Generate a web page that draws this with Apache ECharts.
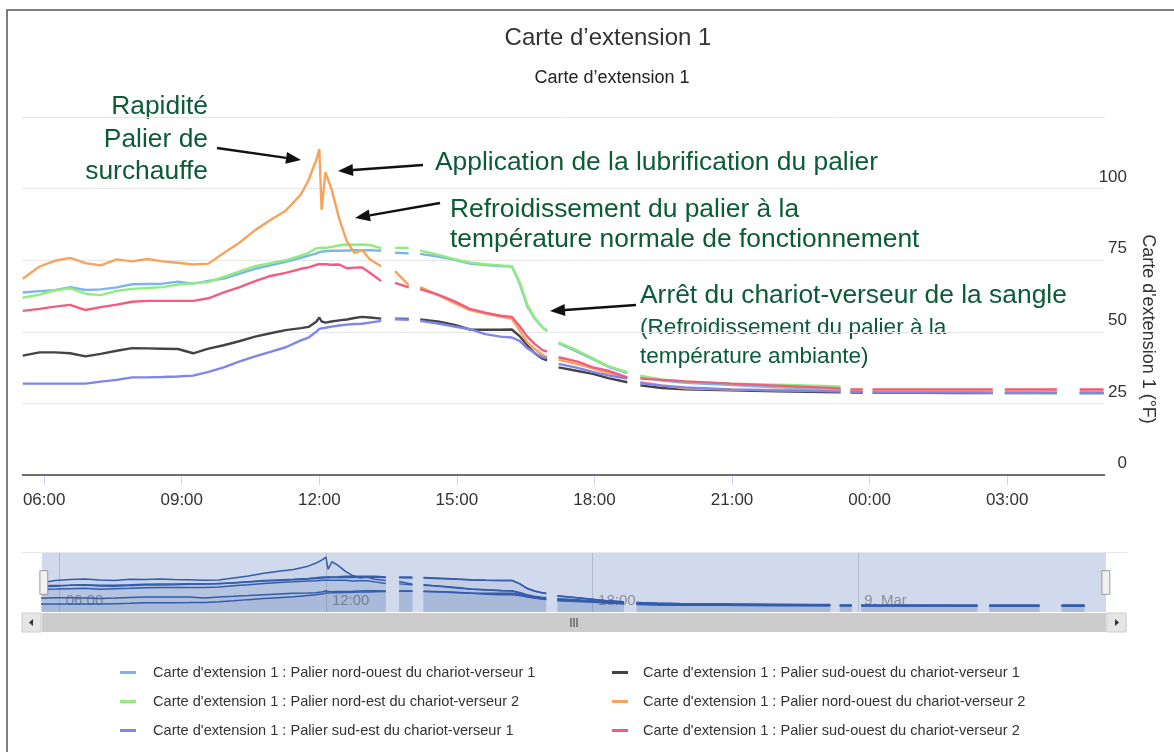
<!DOCTYPE html>
<html>
<head>
<meta charset="utf-8">
<title>Carte d'extension 1</title>
<script src="https://cdn.jsdelivr.net/npm/echarts@6/dist/echarts.min.js"></script>
<style>
html,body{margin:0;padding:0;background:#fff}
#chart{width:1174px;height:752px}
</style>
</head>
<body>
<div id="chart"></div>
<script>
// time stamps shared by every series (null rows = sensor gaps)
var times = [
    '2019-03-08 05:32','2019-03-08 05:54','2019-03-08 06:14','2019-03-08 06:34','2019-03-08 06:54',
    '2019-03-08 07:14','2019-03-08 07:35','2019-03-08 07:55','2019-03-08 08:15','2019-03-08 08:35',
    '2019-03-08 08:55','2019-03-08 09:15','2019-03-08 09:35','2019-03-08 09:55','2019-03-08 10:15',
    '2019-03-08 10:36','2019-03-08 10:56','2019-03-08 11:16','2019-03-08 11:36','2019-03-08 11:46',
    '2019-03-08 11:56','2019-03-08 12:00','2019-03-08 12:03','2019-03-08 12:08','2019-03-08 12:16',
    '2019-03-08 12:26','2019-03-08 12:36','2019-03-08 12:46','2019-03-08 12:56','2019-03-08 13:06',
    '2019-03-08 13:21','2019-03-08 13:30','2019-03-08 13:39','2019-03-08 13:57','2019-03-08 14:05',
    '2019-03-08 14:12','2019-03-08 14:37','2019-03-08 14:57','2019-03-08 15:17','2019-03-08 15:37',
    '2019-03-08 15:57','2019-03-08 16:12','2019-03-08 16:22','2019-03-08 16:32','2019-03-08 16:42',
    '2019-03-08 16:52','2019-03-08 16:58','2019-03-08 17:05','2019-03-08 17:13','2019-03-08 17:38',
    '2019-03-08 17:58','2019-03-08 18:18','2019-03-08 18:43','2019-03-08 18:51','2019-03-08 19:00',
    '2019-03-08 19:28','2019-03-08 19:59','2019-03-08 20:59','2019-03-08 21:59','2019-03-08 23:00',
    '2019-03-08 23:22','2019-03-08 23:28','2019-03-08 23:35','2019-03-08 23:51','2019-03-08 23:57',
    '2019-03-09 00:04','2019-03-09 01:00','2019-03-09 02:00','2019-03-09 02:41','2019-03-09 02:49',
    '2019-03-09 02:57','2019-03-09 03:31','2019-03-09 04:05','2019-03-09 04:20','2019-03-09 04:35',
    '2019-03-09 05:06'
];

var xTickLabels = ['2019-03-08 06:00','2019-03-08 09:00','2019-03-08 12:00','2019-03-08 15:00',
    '2019-03-08 18:00','2019-03-08 21:00','2019-03-09 00:00','2019-03-09 03:00'];
var navTickLabels = ['2019-03-08 06:00','2019-03-08 12:00','2019-03-08 18:00','2019-03-09 00:00'];

var seriesNames = [
    "Carte d'extension 1 : Palier nord-ouest du chariot-verseur 1",
    "Carte d'extension 1 : Palier sud-ouest du chariot-verseur 1",
    "Carte d'extension 1 : Palier nord-est du chariot-verseur 2",
    "Carte d'extension 1 : Palier nord-ouest du chariot-verseur 2",
    "Carte d'extension 1 : Palier sud-est du chariot-verseur 1",
    "Carte d'extension 1 : Palier sud-ouest du chariot-verseur 2"
];
var colors = ['#7cb5ec', '#434348', '#90ed7d', '#f7a35c', '#8085e9', '#f15c80'];

var nordOuest1 = [63.7,64.2,64.5,65.6,64.6,64.8,65.5,66.6,66.7,66.8,67.5,66.8,67.8,68.6,70.2,72,73.2,74.4,75.8,76.6,
    77.3,77.8,78,78.1,78.3,78.3,78.4,78.5,78.5,78.5,78.3,null,77.6,77.4,null,
    77.2,76.2,75.1,73.8,73.3,73.0,72.8,67,59,54.6,51.5,50.3,null,46,43,40.4,37.8,35.6,null,
    34.4,33,32.2,31.4,30.6,30.2,29.8,null,29.5,29.4,null,29.2,29.1,29,28.9,null,28.8,28.8,28.7,null,28.6,28.6];
var sudOuest1 = [41.7,42.8,42.8,42.5,41.4,42.3,43.4,44.3,44.2,44.1,44,42.5,44.1,45.3,46.7,48.3,49.5,50.6,51.3,51.7,
    53.5,55,53.6,53.2,53.6,54,54.3,54.8,55.2,55,54.6,null,54.6,54.5,null,
    54.3,53.5,52.4,50.8,50.7,50.7,50.8,48.5,45.3,42.5,40.6,40,null,37.6,36.3,35.3,33.8,32.4,null,
    31.3,30.4,29.9,29.6,29.2,29,28.9,null,28.8,28.7,null,28.7,28.7,28.6,28.6,null,28.6,28.6,28.6,null,28.6,28.6];
var nordEst2 = [61.9,63,64.5,65.2,63.3,62.8,64.3,65,65.3,65.6,66.5,67,67.4,69.2,71,72.9,74,75,76.6,77.6,
    79.2,79.3,79.4,79.3,79.6,80.2,80.5,80.4,80.5,80.3,79.2,null,79.3,79.3,null,
    78.4,76.8,75.4,74.2,73.6,73.2,72.9,67.5,59.5,54.8,51.5,50.6,null,46.3,43.4,40.7,38,35.9,null,
    34.7,33.4,32.6,31.9,31.5,31.1,30.9,null,29.6,29.5,null,29.4,29.3,29.2,29.1,null,29.0,28.6,28.5,null,29.4,29.3];
var nordOuest2 = [68.5,72.8,74.8,75.8,74,73.2,75.3,74.6,75.4,74.6,74.1,73.5,73.8,77.5,81,85.5,89,92.3,98,103,
    110,113.8,92.6,105.7,99.8,89.5,81.6,77.5,78.6,75.3,72.9,null,71.2,66.3,null,
    65.6,62.6,60,57.6,56.4,55.3,54.5,50.5,46.4,44,42,41.2,null,40.2,38.7,37.2,35.6,34,null,
    32.4,31.3,30.3,29.8,29.7,29.7,29.7,null,29.7,29.7,null,29.7,29.7,29.7,29.7,null,29.7,29.7,29.7,null,29.7,29.7];
var sudEst1 = [31.9,31.9,31.9,31.9,31.9,32.6,33.2,34.1,34.1,34.2,34.4,34.7,36,37.6,39.6,41.4,43,44.6,47,48,
    50,51,51.2,51.4,51.8,52.2,52.5,52.7,52.8,53.2,53.8,null,54.4,54.2,null,
    53.8,52.8,51.8,50.9,49.2,48.3,48,46.8,44.3,42.6,41.1,40.8,null,38.8,37.4,36,34.8,33.7,null,
    32.1,31.2,30.6,29.9,29.5,29.3,29.1,null,28.9,28.9,null,28.8,28.8,28.8,28.7,null,28.7,28.7,28.7,null,28.7,28.7];
var sudOuest2 = [57.3,58,58.8,59.4,57.6,58.6,59.5,60.5,60.8,60.8,60.8,60.8,61.7,63.8,65.5,67.7,69.5,70.6,72,72.5,
    73.4,73.6,73.6,73.6,73.4,73.5,72.2,72.4,72.5,70.6,67.7,null,67.1,65.5,null,
    64.9,62.8,60.6,58,56.7,55.6,55.2,52,48.3,45.7,43.6,43.1,null,41.1,39.6,37.6,36.4,34.1,null,
    33.7,33.2,32.7,31.9,31.2,30.5,30.2,null,29.9,29.9,null,29.9,29.9,29.9,29.9,null,29.9,29.9,29.9,null,29.9,29.9];

var seriesValues = [nordOuest1, sudOuest1, nordEst2, nordOuest2, sudEst1, sudOuest2];
var yTicks = [0, 25, 50, 75, 100, 125];

var FONT = '"Liberation Sans", Arial, sans-serif';
var GREEN = '#0b5b39';

function pad(n) { return n < 10 ? '0' + n : '' + n; }
function ts(s) { return new Date(s.replace(' ', 'T')).getTime(); }
function hhmm(v) { var d = new Date(v); return pad(d.getHours()) + ':' + pad(d.getMinutes()); }

function pairs(values) {
    return values.map(function (v, i) { return [ts(times[i]), v]; });
}

function arrow(x1, y1, x2, y2) {
    var dx = x2 - x1, dy = y2 - y1;
    var len = Math.sqrt(dx * dx + dy * dy);
    var ux = dx / len, uy = dy / len;
    var hl = 15, hw = 6;
    var bx = x2 - ux * hl, by = y2 - uy * hl;
    return [{
        type: 'line', silent: true,
        shape: {x1: x1, y1: y1, x2: bx, y2: by},
        style: {stroke: '#111', lineWidth: 2.5}
    }, {
        type: 'polygon', silent: true,
        shape: {points: [[x2, y2], [bx - uy * hw, by + ux * hw], [bx + uy * hw, by - ux * hw]]},
        style: {fill: '#111'}
    }];
}

function note(text, x, y, size, align) {
    return {
        type: 'text', x: x, y: y, silent: true,
        style: {
            text: text, fill: GREEN,
            font: size + 'px ' + FONT,
            align: align, textAlign: align,
            verticalAlign: 'middle', textVerticalAlign: 'middle'
        }
    };
}

var series = [];
seriesValues.forEach(function (vals, i) {
    var s = {
        name: seriesNames[i],
        type: 'line',
        xAxisIndex: 0, yAxisIndex: 0,
        data: pairs(vals),
        showSymbol: false,
        connectNulls: false,
        color: colors[i],
        lineStyle: {width: 2.4, color: colors[i]},
        emphasis: {disabled: true}
    };
    if (i === 0) {
        // dark base line at 0
        s.markLine = {
            silent: true, symbol: 'none', label: {show: false},
            lineStyle: {color: '#444', width: 1.5, type: 'solid'},
            data: [{yAxis: 0}]
        };
    }
    series.push(s);
});
// navigator copies
seriesValues.forEach(function (vals, i) {
    series.push({
        name: 'nav' + i,
        type: 'line',
        xAxisIndex: 1, yAxisIndex: 1,
        data: pairs(vals),
        showSymbol: false,
        connectNulls: false,
        silent: true,
        lineStyle: {width: 1.5, color: '#335cad'},
        areaStyle: {color: 'rgba(51,92,173,0.06)'},
        emphasis: {disabled: true}
    });
});

var graphics = [
    {type: 'rect', silent: true, z: -10, shape: {x: 7, y: 10, width: 1200, height: 800},
        style: {fill: 'none', stroke: '#555', lineWidth: 1.5}},
    {type: 'line', silent: true, shape: {x1: 22, y1: 552.5, x2: 1127, y2: 552.5}, style: {stroke: '#e6e6e6', lineWidth: 1}},
    // scrollbar under the navigator
    {type: 'rect', silent: true, shape: {x: 22, y: 613, width: 1105, height: 19}, style: {fill: '#f2f2f2'}},
    {type: 'rect', silent: true, shape: {x: 42, y: 613, width: 1064, height: 19}, style: {fill: '#cccccc'}},
    {type: 'rect', silent: true, shape: {x: 22, y: 613, width: 19, height: 19}, style: {fill: '#e6e6e6', stroke: '#cccccc'}},
    {type: 'rect', silent: true, shape: {x: 1107, y: 613, width: 19, height: 19}, style: {fill: '#e6e6e6', stroke: '#cccccc'}},
    {type: 'polygon', silent: true, shape: {points: [[29, 622.5], [33, 619], [33, 626]]}, style: {fill: '#333'}},
    {type: 'polygon', silent: true, shape: {points: [[1119, 622.5], [1115, 619], [1115, 626]]}, style: {fill: '#333'}},
    {type: 'line', silent: true, shape: {x1: 571, y1: 618, x2: 571, y2: 627}, style: {stroke: '#333', lineWidth: 1}},
    {type: 'line', silent: true, shape: {x1: 574, y1: 618, x2: 574, y2: 627}, style: {stroke: '#333', lineWidth: 1}},
    {type: 'line', silent: true, shape: {x1: 577, y1: 618, x2: 577, y2: 627}, style: {stroke: '#333', lineWidth: 1}},
    // annotations
    note('Rapidité', 208, 107, 26.4, 'right'),
    note('Palier de', 208, 140, 26.4, 'right'),
    note('surchauffe', 208, 172, 26.4, 'right'),
    note('Application de la lubrification du palier', 435, 163, 26.4, 'left'),
    note('Refroidissement du palier à la', 450, 210, 26.4, 'left'),
    note('température normale de fonctionnement', 450, 240, 26.4, 'left'),
    note('Arrêt du chariot-verseur de la sangle', 640, 296, 26.4, 'left'),
    note('(Refroidissement du palier à la', 640, 328, 22.6, 'left'),
    note('température ambiante)', 640, 357, 22.6, 'left')
].concat(arrow(217, 148, 301, 160))
 .concat(arrow(423, 165, 338, 171))
 .concat(arrow(440, 203, 355, 218))
 .concat(arrow(636, 305, 550, 311));

var chart = echarts.init(document.getElementById('chart'));
var option = {
    animation: false,
    backgroundColor: '#fff',
    textStyle: {fontFamily: FONT},
    title: [{
        text: 'Carte d’extension 1',
        left: 603, top: 21, textAlign: 'center',
        textStyle: {fontSize: 24, fontWeight: 'normal', color: '#333', fontFamily: FONT}
    }, {
        text: 'Carte d’extension 1',
        left: 607, top: 64, textAlign: 'center',
        textStyle: {fontSize: 18, fontWeight: 'normal', color: '#222', fontFamily: FONT}
    }],
    legend: [{
        data: [seriesNames[0], seriesNames[2], seriesNames[4]],
        orient: 'vertical', left: 120, top: 665, itemGap: 14, padding: 0,
        icon: 'rect', itemWidth: 16, itemHeight: 3,
        textStyle: {fontSize: 14.6, color: '#333', padding: [0, 0, 0, 12]}
    }, {
        data: [seriesNames[1], seriesNames[3], seriesNames[5]],
        orient: 'vertical', left: 612, top: 665, itemGap: 14, padding: 0,
        icon: 'rect', itemWidth: 16, itemHeight: 3,
        textStyle: {fontSize: 14.6, color: '#333', padding: [0, 0, 0, 10]}
    }],
    grid: [{
        left: 22, right: 69, top: 117, bottom: 277
    }, {
        left: 42, right: 68, top: 553, height: 59,
        show: true, backgroundColor: 'rgba(102,133,194,0.3)', borderWidth: 0
    }],
    xAxis: [{
        type: 'value', gridIndex: 0,
        min: ts('2019-03-08 05:31'), max: ts('2019-03-09 05:08'),
        offset: 2,
        axisLine: {lineStyle: {color: '#ccd6eb', width: 1}},
        axisTick: {show: true, length: 10, lineStyle: {color: '#ccd6eb'}, customValues: xTickLabels.map(ts)},
        axisLabel: {
            fontSize: 17, color: '#333', margin: 15,
            customValues: xTickLabels.map(ts),
            formatter: hhmm
        },
        splitLine: {show: false}
    }, {
        type: 'value', gridIndex: 1,
        min: ts('2019-03-08 05:36'), max: ts('2019-03-09 05:35'),
        axisLine: {show: false},
        axisTick: {show: false, customValues: navTickLabels.map(ts)},
        axisLabel: {
            inside: true, fontSize: 15, color: 'rgba(110,110,110,0.7)', margin: 4,
            align: 'left', padding: [0, 0, 0, 6],
            customValues: navTickLabels.map(ts),
            formatter: function (v) {
                var d = new Date(v);
                if (d.getHours() === 0) return d.getDate() + '. Mar';
                return hhmm(v);
            }
        },
        splitLine: {show: true, lineStyle: {color: 'rgba(90,90,90,0.25)'}}
    }],
    yAxis: [{
        type: 'value', gridIndex: 0, position: 'right',
        min: yTicks[0], max: yTicks[yTicks.length - 1], interval: 25,
        name: "Carte d'extension 1 (°F)",
        nameLocation: 'middle', nameRotate: -90, nameGap: 34,
        nameTextStyle: {fontSize: 18, color: '#333', padding: [0, 0, 0, 66]},
        axisLine: {show: false},
        axisTick: {show: false},
        axisLabel: {
            showMaxLabel: false, fontSize: 17, color: '#333',
            align: 'right', margin: 22, verticalAlign: 'bottom', padding: [0, 0, 3, 0]
        },
        splitLine: {lineStyle: {color: '#e6e6e6', width: 1}}
    }, {
        type: 'value', gridIndex: 1, min: 18, max: 121,
        axisLine: {show: false}, axisTick: {show: false},
        axisLabel: {show: false}, splitLine: {show: false}
    }],
    dataZoom: [{
        type: 'slider', xAxisIndex: 1, filterMode: 'none',
        start: 0, end: 100,
        left: 42, right: 68, top: 553, height: 59,
        showDataShadow: false, showDetail: false,
        backgroundColor: 'rgba(0,0,0,0)', fillerColor: 'rgba(0,0,0,0)', borderColor: 'rgba(0,0,0,0)',
        handleIcon: 'path://M0,0 L8,0 L8,24 L0,24 Z',
        handleSize: '40%',
        handleStyle: {color: '#f2f2f2', borderColor: '#999', borderWidth: 1},
        moveHandleSize: 0,
        brushSelect: false
    }],
    graphic: graphics,
    series: series
};
chart.setOption(option);
</script>
</body>
</html>
